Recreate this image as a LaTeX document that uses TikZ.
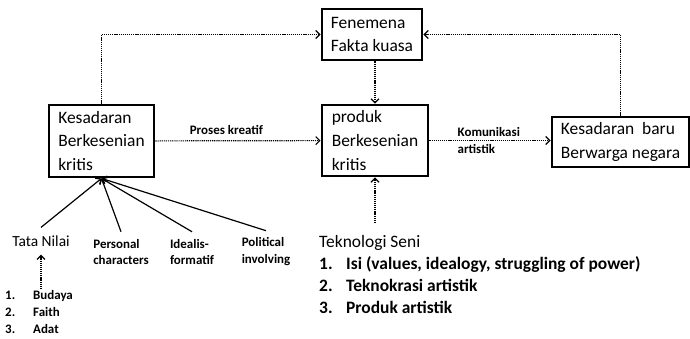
\documentclass[tikz,border=0pt]{standalone}
\usepackage{fontspec}
\setmainfont{Carlito}
\usetikzlibrary{positioning, arrows.meta}
\tikzset{
box/.style={draw, line width=2.8bp, align=left, inner xsep=9bp, font=\fontsize{17.5}{24}\selectfont}, % the four framed boxes
lbl/.style={font=\bfseries\fontsize{13}{17}\selectfont, align=left, inner sep=1bp}, % small bold labels
cause/.style={lbl, inner ysep=7bp}, % the three labels under the left box
flow/.style={->, dash pattern=on 1.2bp off 0.9bp, line width=1.2bp}, % dotted connectors
fan/.style={->, line width=1.2bp}, % solid lines into the left box
>={Straight Barb[length=4bp,width=8bp]}, % open arrow heads
}
\begin{document}
\begin{tikzpicture}[x=1bp, y=-1bp]
    \useasboundingbox (0,0) rectangle (690,338);
    \node[box, minimum width=105bp, minimum height=72bp] (kbk) at (101.5,141) {Kesadaran\\Berkesenian\\kritis};
    \node[box, minimum width=106bp, minimum height=71bp] (produk) at (375,140.5) {produk\\Berkesenian\\kritis};
    \node[box, minimum width=100bp, minimum height=51bp] (fen) at (372,34.5) {Fenemena\\Fakta kuasa};
    \node[box, minimum width=135bp, minimum height=50bp] (baru) at (620.5,142) {Kesadaran\ \ baru\\Berwarga negara};
    \node[font=\fontsize{15.5}{18}\selectfont, inner ysep=8bp] (tata) at (41,241) {Tata Nilai};
    \node[cause] (personal) at (121,252) {Personal\\characters};
    \node[cause] (idealis) at (192,252) {Idealis-\\formatif};
    \node[cause] (political) at (266,252) {Political\\involving};
    \node[lbl, anchor=north west] (nilai) at (4,289) {\makebox[28bp][l]{1.}Budaya\\\makebox[28bp][l]{2.}Faith\\\makebox[28bp][l]{3.}Adat};
    \node[anchor=north west, align=left, inner sep=0pt, font=\fontsize{17.5}{22}\selectfont] (tek) at (319,235) {Teknologi Seni\\
        \textbf{\makebox[27bp][l]{1.}Isi (values, idealogy, struggling of power)}\\
        \textbf{\makebox[27bp][l]{2.}Teknokrasi artistik}\\
        \textbf{\makebox[27bp][l]{3.}Produk artistik}};
    \coordinate (tekin) at (375,223);
    \draw[flow] (kbk.north) |- (fen.west);
    \draw[flow] (baru.north) |- (fen.east);
    \draw[flow] (fen.south -| produk.north) -- (produk.north);
    \draw[flow] (kbk) -- node[lbl, above=5bp, pos=0.43] {Proses kreatif} (produk);
    \draw[flow] (produk.east) -- node[lbl, anchor=west, pos=0.22] {Komunikasi\\artistik} (produk.east -| baru.west);
    \draw[flow] (tekin) -- (produk.south);
    \draw[flow] (nilai.north -| tata.south) -- (tata.south);
    \draw[fan] (tata.north) -- (kbk.south);
    \draw[fan] (personal.north) -- (kbk.south);
    \draw[fan] (idealis.north) -- (kbk.south);
    \draw[fan] (political.north) -- (kbk.south);
\end{tikzpicture}
\end{document}
